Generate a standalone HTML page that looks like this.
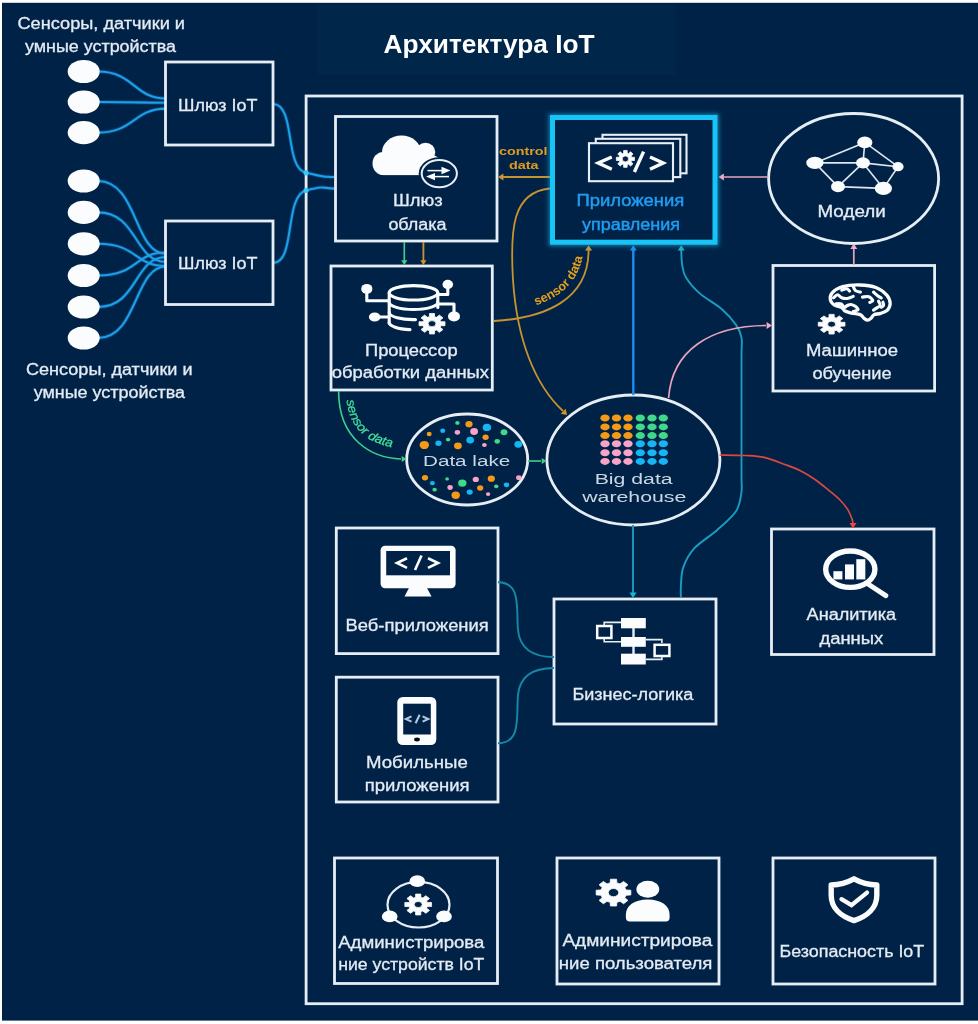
<!DOCTYPE html>
<html lang="ru">
<head>
<meta charset="utf-8">
<title>Архитектура IoT</title>
<style>
html,body{margin:0;padding:0;background:#fff;}
body{width:978px;height:1024px;overflow:hidden;position:relative;font-family:"Liberation Sans",sans-serif;}
svg{position:absolute;left:0;top:0;display:block;}
text{font-family:"Liberation Sans",sans-serif;}
.lbl{fill:#e4ebf4;stroke:#e4ebf4;stroke-width:0.3;font-size:16px;}
.app{fill:#1e9df2;stroke:#1e9df2;stroke-width:0.45;}
.en{fill:#c9d6e4;stroke:none;font-size:15.5px;}
.ttl{fill:#ffffff;font-size:25px;font-weight:bold;}
.sm{fill:#e09a20;font-size:11px;font-weight:bold;}
.smo{fill:#e8a01c;font-size:12.5px;font-weight:bold;}
.smg{fill:#45e09c;stroke:#45e09c;stroke-width:0.25;font-size:12.5px;font-style:italic;}
.box{fill:#022446;stroke:#e6edf5;stroke-width:2.8;}
.ell{fill:#022446;stroke:#e6edf5;stroke-width:2.8;}
.bl{fill:none;stroke:#1d9fe6;stroke-width:2.1;}
.tl{fill:none;stroke:#1a9cc0;stroke-width:1.9;}
.or{fill:none;stroke:#c8922f;stroke-width:1.8;}
.gr{fill:none;stroke:#3fcf8e;stroke-width:1.6;}
.pk{fill:none;stroke:#eaa2be;stroke-width:1.7;}
.rd{fill:none;stroke:#dc4643;stroke-width:1.7;}
.tl2{fill:none;stroke:#1787a8;stroke-width:1.9;}
</style>
</head>
<body>
<svg width="978" height="1024" viewBox="0 0 978 1024">
<defs><filter id="soft" x="-2%" y="-2%" width="104%" height="104%"><feGaussianBlur stdDeviation="0.55"/></filter></defs>
<g filter="url(#soft)">
<rect x="-20" y="-20" width="1018" height="1064" fill="#ffffff"/>
<rect x="2" y="2.8" width="996" height="1017.8" fill="#022446"/>
<rect x="318" y="5" width="358" height="70" fill="#032549"/>
<rect x="306.1" y="96" width="656" height="907.7" fill="none" stroke="#e6edf5" stroke-width="2.8"/>
<g id="sensors">
<path d="M98,71.5 C134,71.5 134,98.5 166,98.5" fill="none" stroke="#0c5fa8" stroke-width="4" opacity="0.45"/>
<path d="M98,102 C134,102 134,102.8 166,102.8" fill="none" stroke="#0c5fa8" stroke-width="4" opacity="0.45"/>
<path d="M98,132.6 C134,132.6 134,108.6 166,108.6" fill="none" stroke="#0c5fa8" stroke-width="4" opacity="0.45"/>
<path d="M98,181 C138,181 134,254 166,254" fill="none" stroke="#0c5fa8" stroke-width="4" opacity="0.45"/>
<path d="M98,212.4 C138,212.4 134,262 166,262" fill="none" stroke="#0c5fa8" stroke-width="4" opacity="0.45"/>
<path d="M98,243.8 C138,243.8 134,266 166,266" fill="none" stroke="#0c5fa8" stroke-width="4" opacity="0.45"/>
<path d="M98,275.5 C138,275.5 134,252.5 166,252.5" fill="none" stroke="#0c5fa8" stroke-width="4" opacity="0.45"/>
<path d="M98,307 C138,307 134,257 166,257" fill="none" stroke="#0c5fa8" stroke-width="4" opacity="0.45"/>
<path d="M98,338 C138,338 134,266.5 166,266.5" fill="none" stroke="#0c5fa8" stroke-width="4" opacity="0.45"/>
<path d="M273,104 C296,104 284,168 306,172.8 S322,177 335,177" fill="none" stroke="#0c5fa8" stroke-width="4" opacity="0.45"/>
<path d="M273,263 C296,263 284,196 306,190.5 S322,188.6 335,188.6" fill="none" stroke="#0c5fa8" stroke-width="4" opacity="0.45"/>
<path class="bl" d="M98,71.5 C134,71.5 134,98.5 166,98.5"/>
<path class="bl" d="M98,102 C134,102 134,102.8 166,102.8"/>
<path class="bl" d="M98,132.6 C134,132.6 134,108.6 166,108.6"/>
<path class="bl" d="M98,181 C138,181 134,254 166,254"/>
<path class="bl" d="M98,212.4 C138,212.4 134,262 166,262"/>
<path class="bl" d="M98,243.8 C138,243.8 134,266 166,266"/>
<path class="bl" d="M98,275.5 C138,275.5 134,252.5 166,252.5"/>
<path class="bl" d="M98,307 C138,307 134,257 166,257"/>
<path class="bl" d="M98,338 C138,338 134,266.5 166,266.5"/>
<path class="bl" d="M273,104 C296,104 284,168 306,172.8 S322,177 335,177"/>
<path class="bl" d="M273,263 C296,263 284,196 306,190.5 S322,188.6 335,188.6"/>
<circle cx="306" cy="172.8" r="2.6" fill="#35c9f5"/><circle cx="306" cy="190.5" r="2.6" fill="#35c9f5"/>
<ellipse cx="83.7" cy="71.5" rx="16" ry="11.6" fill="#fbfcfd"/>
<ellipse cx="83.7" cy="102" rx="16" ry="11.6" fill="#fbfcfd"/>
<ellipse cx="83.7" cy="132.6" rx="16" ry="11.6" fill="#fbfcfd"/>
<ellipse cx="83.7" cy="181" rx="16" ry="11.6" fill="#fbfcfd"/>
<ellipse cx="83.7" cy="212.4" rx="16" ry="11.6" fill="#fbfcfd"/>
<ellipse cx="83.7" cy="243.8" rx="16" ry="11.6" fill="#fbfcfd"/>
<ellipse cx="83.7" cy="275.5" rx="16" ry="11.6" fill="#fbfcfd"/>
<ellipse cx="83.7" cy="307" rx="16" ry="11.6" fill="#fbfcfd"/>
<ellipse cx="83.7" cy="338" rx="16" ry="11.6" fill="#fbfcfd"/>
</g>
<g id="boxes">
<rect class="box" x="165.5" y="62" width="107.5" height="83"/>
<rect class="box" x="165.5" y="221" width="107.5" height="83.5"/>
<rect class="box" x="335.5" y="116.5" width="161.5" height="124.5"/>
<rect class="box" x="331" y="266" width="161.3" height="124"/>
<rect class="box" x="773" y="265.5" width="161.6" height="125.5"/>
<rect class="box" x="336.3" y="528" width="161.7" height="125.6"/>
<rect class="box" x="336.3" y="677.2" width="161.7" height="124.8"/>
<rect class="box" x="554" y="599" width="162" height="125"/>
<rect class="box" x="771.5" y="529" width="162.5" height="125.5"/>
<rect class="box" x="334.5" y="858" width="163.0" height="125.5"/>
<rect class="box" x="557" y="858" width="162" height="126"/>
<rect class="box" x="773" y="858" width="162" height="126"/>
<ellipse class="ell" cx="853.6" cy="178.5" rx="85" ry="65"/>
<ellipse class="ell" cx="467.2" cy="459.5" rx="60.5" ry="45.5"/>
<ellipse class="ell" cx="633.4" cy="460" rx="86.5" ry="65"/>
</g>
<g id="connectors">
<path class="gr" d="M404.3,242 V262"/><path d="M0,0 L-4.80,-3.12 L-4.80,3.12 Z" fill="#3fcf8e" transform="translate(404.3,265) rotate(90)"/>
<path class="or" d="M423.4,242 V262"/><path d="M0,0 L-4.80,-3.12 L-4.80,3.12 Z" fill="#d0952c" transform="translate(423.4,265) rotate(90)"/>
<path class="or" d="M550,177 H503"/><path d="M0,0 L-5.40,-3.51 L-5.40,3.51 Z" fill="#d0952c" transform="translate(498,177) rotate(180)"/>
<path class="or" d="M494,321 C545,318 588.6,300 588.6,250"/><path d="M0,0 L-5.40,-3.51 L-5.40,3.51 Z" fill="#d0952c" transform="translate(588.6,245.2) rotate(-90)"/>
<path class="or" d="M550,188.5 C512,192 510,230 513,280 C517,340 535,385 563,411"/><path d="M0,0 L-5.40,-3.51 L-5.40,3.51 Z" fill="#d0952c" transform="translate(567,415) rotate(45)"/>
<path class="gr" d="M338.6,391 C338.6,440 372,458 401,459"/><path d="M0,0 L-4.80,-3.12 L-4.80,3.12 Z" fill="#3fcf8e" transform="translate(406.5,459) rotate(0)"/>
<path class="gr" d="M528,461 H541"/><path d="M0,0 L-4.80,-3.12 L-4.80,3.12 Z" fill="#3fcf8e" transform="translate(546.5,461) rotate(0)"/>
<path d="M633.3,395 V250" fill="none" stroke="#1c8ff0" stroke-width="2.4"/><path d="M0,0 L-5.40,-3.51 L-5.40,3.51 Z" fill="#1c8ff0" transform="translate(633.3,245.2) rotate(-90)"/>
<path class="tl" d="M680.90,598.00 C680.90,596.05 680.52,591.37 680.90,586.30 C681.28,581.23 681.05,573.85 683.20,567.60 C685.35,561.35 688.13,555.07 693.80,548.80 C699.47,542.53 710.17,536.25 717.20,530.00 C724.23,523.75 731.97,517.55 736.00,511.30 C740.03,505.05 740.48,499.38 741.40,492.50 C742.32,485.62 741.48,492.08 741.50,470.00 C741.52,447.92 741.50,382.03 741.50,360.00 C741.50,337.97 742.38,343.62 741.50,337.80 C740.62,331.98 739.47,329.87 736.20,325.10 C732.93,320.33 727.98,314.48 721.90,309.20 C715.82,303.92 705.68,298.68 699.70,293.40 C693.72,288.12 688.92,282.25 686.00,277.50 C683.08,272.75 683.00,269.48 682.20,264.90 C681.40,260.32 681.37,252.48 681.20,250.00"/><path d="M0,0 L-5.40,-3.51 L-5.40,3.51 Z" fill="#1fb0cc" transform="translate(681.2,245.2) rotate(-90)"/>
<path class="tl" d="M633,525 V593"/><path d="M0,0 L-5.40,-3.51 L-5.40,3.51 Z" fill="#19b6d8" transform="translate(633,598) rotate(90)"/>
<path class="pk" d="M668.6,398 C672,350 710,326 766,325.5"/><path d="M0,0 L-5.40,-3.51 L-5.40,3.51 Z" fill="#f4abc6" transform="translate(772,325.5) rotate(0)"/>
<path class="pk" d="M853.8,265 V249"/><path d="M0,0 L-5.40,-3.51 L-5.40,3.51 Z" fill="#f4abc6" transform="translate(853.8,243.5) rotate(-90)"/>
<path class="pk" d="M768.5,177 H724"/><path d="M0,0 L-5.40,-3.51 L-5.40,3.51 Z" fill="#f4abc6" transform="translate(718.5,177) rotate(180)"/>
<path class="rd" d="M719.60,455.00 C723.83,455.08 737.60,455.10 745.00,455.50 C752.40,455.90 757.33,455.90 764.00,457.40 C770.67,458.90 779.00,462.32 785.00,464.50 C791.00,466.68 795.00,468.00 800.00,470.50 C805.00,473.00 810.33,476.30 815.00,479.50 C819.67,482.70 823.83,486.28 828.00,489.70 C832.17,493.12 836.70,496.68 840.00,500.00 C843.30,503.32 845.80,506.43 847.80,509.60 C849.80,512.77 851.13,516.60 852.00,519.00 C852.87,521.40 852.83,523.17 853.00,524.00"/><path d="M0,0 L-5.40,-3.51 L-5.40,3.51 Z" fill="#ee4540" transform="translate(853,528.5) rotate(90)"/>
<path class="tl2" d="M498,582.3 C522,582.3 516,610 518,630 C520,650 535,657 554,657"/>
<path class="tl2" d="M498,743.3 C522,743.3 516,715 518,695 C520,675 535,668 554,668"/>
</g>
<g id="appsbox">
<defs><filter id="glow" x="-20%" y="-20%" width="140%" height="140%"><feGaussianBlur stdDeviation="2.2"/></filter></defs>
<rect x="552.5" y="117.5" width="162.5" height="124.7" fill="none" stroke="#19b4f5" stroke-width="8" opacity="0.55" filter="url(#glow)"/>
<rect x="552.5" y="117.5" width="162.5" height="124.7" fill="#022446" stroke="#19c4f5" stroke-width="5"/>
</g>
<g id="icons">
<!-- cloud -->
<g fill="#fbfcfd">
<ellipse cx="383.3" cy="163.5" rx="10.8" ry="11.6"/>
<ellipse cx="401.5" cy="152.3" rx="19.5" ry="16.8"/>
<ellipse cx="425.5" cy="152" rx="9.8" ry="9.2"/>
<ellipse cx="431" cy="165" rx="11" ry="10"/>
<rect x="383" y="155" width="48" height="20.1"/>
</g>
<ellipse cx="439.3" cy="173.6" rx="20.6" ry="16.4" fill="#022446"/>
<ellipse cx="439.3" cy="173.6" rx="17.6" ry="13.6" fill="#022446" stroke="#e8eef6" stroke-width="2"/>
<path d="M427.5,170.6 H444" stroke="#fbfcfd" stroke-width="1.5" fill="none"/>
<path d="M441.5,166.8 L450.5,170.6 L441.5,174.2 Z" fill="#fbfcfd"/>
<path d="M449,176.6 H433" stroke="#fbfcfd" stroke-width="1.5" fill="none"/>
<path d="M435,172.9 L426,176.6 L435,180.2 Z" fill="#fbfcfd"/>
<!-- db -->
<g fill="none" stroke="#fbfcfd" stroke-width="3.1" stroke-linecap="round" stroke-linejoin="round">
<ellipse cx="413.5" cy="292.8" rx="24.3" ry="7.2"/>
<path d="M389.2,292.8 V323.2"/>
<path d="M437.8,292.8 V307.5"/>
<path d="M389.2,302.3 A24.3,7.2 0 0 0 437.8,302.3"/>
<path d="M389.2,312.5 A24.3,7.2 0 0 0 415.5,319.6"/>
<path d="M389.2,322.5 A24.3,7.2 0 0 0 410,329.6"/>
<path d="M366.8,289 V300.7 H388"/>
<path d="M375,317 H388"/>
<path d="M447.8,284.5 V294.5 H439"/>
<path d="M454,316 V304 H439"/>
</g>
<ellipse cx="366.8" cy="288.9" rx="5.6" ry="5.0" fill="#fbfcfd"/>
<ellipse cx="374.7" cy="317" rx="5.8" ry="4.6" fill="#fbfcfd"/>
<ellipse cx="447.8" cy="284.4" rx="5.3" ry="4.6" fill="#fbfcfd"/>
<ellipse cx="454" cy="316.4" rx="6" ry="5" fill="#fbfcfd"/>
<path d="M440.88,321.69 L444.96,321.72 L444.96,325.68 L440.88,325.71 L440.08,327.23 L442.94,329.52 L439.38,332.32 L436.48,330.07 L434.55,330.70 L434.52,333.91 L429.48,333.91 L429.45,330.70 L427.52,330.07 L424.62,332.32 L421.06,329.52 L423.92,327.23 L423.12,325.71 L419.04,325.68 L419.04,321.72 L423.12,321.69 L423.92,320.17 L421.06,317.88 L424.62,315.08 L427.52,317.33 L429.45,316.70 L429.48,313.49 L434.52,313.49 L434.55,316.70 L436.48,317.33 L439.38,315.08 L442.94,317.88 L440.08,320.17 Z M428.10,323.70 a3.9,3.1 0 1,0 7.8,0 a3.9,3.1 0 1,0 -7.8,0 Z" fill="#fbfcfd" fill-rule="evenodd" stroke="#fbfcfd" stroke-width="0.8" stroke-linejoin="round"/>
<!-- apps -->
<g fill="#022446" stroke="#e8eef6" stroke-width="2.1">
<rect x="602.5" y="134.8" width="84" height="38.5"/>
<rect x="595.8" y="138.8" width="84.5" height="38.3"/>
<rect x="589" y="143.2" width="84" height="38"/>
</g>
<g fill="none" stroke="#fbfcfd" stroke-width="3.4" stroke-linejoin="miter">
<path d="M611.8,157 L598.2,163 L611.8,169.2"/>
<path d="M650,157 L663.2,163 L650,169.2"/>
<path d="M643.6,151.6 L634.4,172"/>
</g>
<path d="M631.59,157.24 L634.43,157.26 L634.43,160.54 L631.59,160.56 L631.03,161.82 L633.03,163.71 L630.54,166.03 L628.52,164.17 L627.18,164.69 L627.16,167.34 L623.64,167.34 L623.62,164.69 L622.28,164.17 L620.26,166.03 L617.77,163.71 L619.77,161.82 L619.21,160.56 L616.37,160.54 L616.37,157.26 L619.21,157.24 L619.77,155.98 L617.77,154.09 L620.26,151.77 L622.28,153.63 L623.62,153.11 L623.64,150.46 L627.16,150.46 L627.18,153.11 L628.52,153.63 L630.54,151.77 L633.03,154.09 L631.03,155.98 Z M622.20,158.90 a3.2,3.0 0 1,0 6.4,0 a3.2,3.0 0 1,0 -6.4,0 Z" fill="#fbfcfd" fill-rule="evenodd" stroke="#fbfcfd" stroke-width="0.8" stroke-linejoin="round"/>
<!-- models -->
<g stroke="#dfe7f0" stroke-width="1.6" fill="none">
<path d="M864.8,142.4 L814.9,162.9"/>
<path d="M864.8,142.4 L863,162.9"/>
<path d="M864.8,142.4 L898,166.7"/>
<path d="M814.9,162.9 L863,162.9"/>
<path d="M863,162.9 L898,166.7"/>
<path d="M814.9,162.9 L838,186.6"/>
<path d="M863,162.9 L838,186.6"/>
<path d="M863,162.9 L883.4,188.4"/>
<path d="M838,186.6 L883.4,188.4"/>
<path d="M898,166.7 L883.4,188.4"/>
</g>
<ellipse cx="864.8" cy="142.4" rx="7.6" ry="5.8" fill="#fbfcfd"/>
<ellipse cx="814.9" cy="162.9" rx="8.6" ry="6.2" fill="#fbfcfd"/>
<ellipse cx="863" cy="162.9" rx="7" ry="5.6" fill="#fbfcfd"/>
<ellipse cx="898" cy="166.7" rx="5.6" ry="4.6" fill="#fbfcfd"/>
<ellipse cx="838" cy="186.6" rx="7" ry="5.6" fill="#fbfcfd"/>
<ellipse cx="883.4" cy="188.4" rx="8.6" ry="6.6" fill="#fbfcfd"/>
<!-- brain -->
<path d="M830.44,300.06 C830.04,298.01 830.15,295.09 832.18,292.87 C834.22,290.64 838.08,288.00 842.67,286.69 C847.26,285.38 854.18,284.85 859.71,284.99 C865.25,285.14 871.37,285.84 875.88,287.53 C880.40,289.23 884.43,292.50 886.81,295.15 C889.18,297.80 890.01,300.96 890.13,303.45 C890.25,305.93 889.08,308.38 887.51,310.05 C885.93,311.71 882.92,312.67 880.69,313.43 C878.46,314.19 875.71,313.86 874.14,314.62 C872.56,315.38 872.34,317.07 871.25,318.00 C870.16,318.93 868.80,320.18 867.58,320.20 C866.36,320.23 865.15,319.10 863.91,318.17 C862.67,317.24 862.16,315.45 860.15,314.62 C858.14,313.79 854.37,313.77 851.85,313.18 C849.33,312.59 846.78,312.05 845.03,311.06 C843.28,310.08 843.11,308.24 841.36,307.25 C839.61,306.27 836.37,306.34 834.54,305.14 C832.72,303.94 830.83,302.11 830.44,300.06 Z" fill="none" stroke="#fbfcfd" stroke-width="3.3" stroke-linejoin="round"/>
<path d="M853.24,286.50 C853.62,287.19 854.34,289.70 855.54,290.64 C856.73,291.57 859.60,291.87 860.41,292.11" fill="none" stroke="#fbfcfd" stroke-width="3.1" stroke-linecap="round"/>
<path d="M833.46,297.82 C834.15,297.31 836.22,294.78 837.60,294.78 C838.98,294.78 840.13,297.20 841.74,297.82 C843.35,298.43 845.34,298.70 847.26,298.46 C849.18,298.21 852.24,296.70 853.24,296.34" fill="none" stroke="#fbfcfd" stroke-width="3.1" stroke-linecap="round"/>
<path d="M862.44,297.08 C863.51,297.02 867.16,296.13 868.88,296.71 C870.59,297.29 872.59,299.62 872.74,300.57 C872.89,301.53 870.29,302.11 869.80,302.41" fill="none" stroke="#fbfcfd" stroke-width="3.1" stroke-linecap="round"/>
<path d="M836.22,303.70 C837.06,303.75 839.94,303.37 841.28,303.98 C842.61,304.59 843.23,307.12 844.22,307.38 C845.22,307.64 846.14,306.03 847.26,305.54 C848.38,305.05 849.60,304.32 850.94,304.44 C852.27,304.56 854.08,305.39 855.26,306.28 C856.44,307.17 858.36,308.92 858.02,309.77 C857.68,310.63 854.04,311.15 853.24,311.43" fill="none" stroke="#fbfcfd" stroke-width="3.1" stroke-linecap="round"/>
<path d="M878.54,301.22 C878.80,301.91 880.45,304.21 880.10,305.36 C879.75,306.51 877.53,307.32 876.42,308.12 C875.32,308.92 873.97,309.81 873.48,310.14" fill="none" stroke="#fbfcfd" stroke-width="3.1" stroke-linecap="round"/>
<path d="M873.48,292.02 C874.17,292.63 876.31,294.70 877.62,295.70 C878.92,296.70 880.68,297.62 881.30,298.00" fill="none" stroke="#fbfcfd" stroke-width="3.1" stroke-linecap="round"/>
<path d="M841.74,290.18 C842.58,289.95 845.50,288.65 846.80,288.80 C848.10,288.95 849.10,290.72 849.56,291.10" fill="none" stroke="#fbfcfd" stroke-width="3.1" stroke-linecap="round"/>
<path d="M882.86,302.14 C882.98,302.68 883.86,304.52 883.60,305.36 C883.34,306.20 881.68,306.89 881.30,307.20" fill="none" stroke="#fbfcfd" stroke-width="3.1" stroke-linecap="round"/>
<path d="M840.75,322.27 L844.95,322.29 L844.95,326.11 L840.75,326.13 L839.93,327.59 L842.87,329.79 L839.21,332.49 L836.22,330.32 L834.22,330.93 L834.20,334.02 L829.00,334.02 L828.98,330.93 L826.98,330.32 L823.99,332.49 L820.33,329.79 L823.27,327.59 L822.45,326.13 L818.25,326.11 L818.25,322.29 L822.45,322.27 L823.27,320.81 L820.33,318.61 L823.99,315.91 L826.98,318.08 L828.98,317.47 L829.00,314.38 L834.20,314.38 L834.22,317.47 L836.22,318.08 L839.21,315.91 L842.87,318.61 L839.93,320.81 Z M827.60,324.20 a4.0,3.0 0 1,0 8.0,0 a4.0,3.0 0 1,0 -8.0,0 Z" fill="#fbfcfd" fill-rule="evenodd" stroke="#fbfcfd" stroke-width="0.8" stroke-linejoin="round"/>
<!-- lake dots -->
<ellipse cx="457.4" cy="422.9" rx="2.2" ry="1.9" fill="#3fd98a"/>
<ellipse cx="469.0" cy="424.2" rx="3.6" ry="3.1" fill="#f59a16"/>
<ellipse cx="486.9" cy="427.4" rx="4.2" ry="3.7" fill="#12b5f5"/>
<ellipse cx="442.7" cy="430.8" rx="2.5" ry="2.2" fill="#12b5f5"/>
<ellipse cx="429.2" cy="434.0" rx="2.5" ry="2.2" fill="#f59a16"/>
<ellipse cx="457.4" cy="432.3" rx="2.7" ry="2.4" fill="#f7a3c8"/>
<ellipse cx="474.1" cy="431.5" rx="3.9" ry="3.4" fill="#f7a3c8"/>
<ellipse cx="504.0" cy="432.3" rx="3.4" ry="3.0" fill="#3fd98a"/>
<ellipse cx="485.6" cy="437.2" rx="3.1" ry="2.7" fill="#f59a16"/>
<ellipse cx="448.1" cy="439.6" rx="2.2" ry="1.9" fill="#3fd98a"/>
<ellipse cx="470.2" cy="440.1" rx="3.9" ry="3.4" fill="#12b5f5"/>
<ellipse cx="497.2" cy="441.3" rx="2.7" ry="2.4" fill="#3fd98a"/>
<ellipse cx="424.3" cy="445.0" rx="4.7" ry="4.1" fill="#f59a16"/>
<ellipse cx="438.5" cy="443.3" rx="3.1" ry="2.7" fill="#12b5f5"/>
<ellipse cx="457.9" cy="445.8" rx="3.9" ry="3.4" fill="#f59a16"/>
<ellipse cx="484.4" cy="445.0" rx="2.4" ry="2.1" fill="#f7a3c8"/>
<ellipse cx="518.3" cy="444.3" rx="3.9" ry="3.4" fill="#12b5f5"/>
<ellipse cx="425.0" cy="477.7" rx="3.1" ry="2.7" fill="#f59a16"/>
<ellipse cx="447.1" cy="478.9" rx="1.9" ry="1.6" fill="#3fd98a"/>
<ellipse cx="475.8" cy="479.4" rx="3.1" ry="2.7" fill="#f7a3c8"/>
<ellipse cx="491.3" cy="478.7" rx="3.6" ry="3.1" fill="#f59a16"/>
<ellipse cx="518.8" cy="477.7" rx="2.7" ry="2.4" fill="#f7a3c8"/>
<ellipse cx="432.4" cy="483.1" rx="2.5" ry="2.2" fill="#12b5f5"/>
<ellipse cx="462.3" cy="483.1" rx="4.2" ry="3.7" fill="#3fd98a"/>
<ellipse cx="506.5" cy="484.8" rx="2.7" ry="2.4" fill="#12b5f5"/>
<ellipse cx="496.2" cy="486.3" rx="2.2" ry="1.9" fill="#3fd98a"/>
<ellipse cx="434.6" cy="489.7" rx="2.2" ry="1.9" fill="#3fd98a"/>
<ellipse cx="450.1" cy="487.5" rx="2.7" ry="2.4" fill="#f7a3c8"/>
<ellipse cx="480.2" cy="488.0" rx="3.1" ry="2.7" fill="#f59a16"/>
<ellipse cx="469.7" cy="492.1" rx="3.1" ry="2.7" fill="#12b5f5"/>
<ellipse cx="455.7" cy="495.3" rx="4.2" ry="3.7" fill="#f59a16"/>
<ellipse cx="488.1" cy="494.1" rx="2.2" ry="1.9" fill="#f7a3c8"/>
<!-- bigdata dots -->
<ellipse cx="605" cy="418" rx="4.7" ry="3.5" fill="#f59a16"/>
<ellipse cx="616.5" cy="418" rx="4.7" ry="3.5" fill="#f59a16"/>
<ellipse cx="628" cy="418" rx="4.7" ry="3.5" fill="#f59a16"/>
<ellipse cx="640.3" cy="418" rx="4.7" ry="3.5" fill="#3fd98a"/>
<ellipse cx="652" cy="418" rx="4.7" ry="3.5" fill="#3fd98a"/>
<ellipse cx="663.3" cy="418" rx="4.7" ry="3.5" fill="#3fd98a"/>
<ellipse cx="605" cy="426.9" rx="4.7" ry="3.5" fill="#f59a16"/>
<ellipse cx="616.5" cy="426.9" rx="4.7" ry="3.5" fill="#f59a16"/>
<ellipse cx="628" cy="426.9" rx="4.7" ry="3.5" fill="#f59a16"/>
<ellipse cx="640.3" cy="426.9" rx="4.7" ry="3.5" fill="#3fd98a"/>
<ellipse cx="652" cy="426.9" rx="4.7" ry="3.5" fill="#3fd98a"/>
<ellipse cx="663.3" cy="426.9" rx="4.7" ry="3.5" fill="#3fd98a"/>
<ellipse cx="605" cy="435.6" rx="4.7" ry="3.5" fill="#f59a16"/>
<ellipse cx="616.5" cy="435.6" rx="4.7" ry="3.5" fill="#f59a16"/>
<ellipse cx="628" cy="435.6" rx="4.7" ry="3.5" fill="#f59a16"/>
<ellipse cx="640.3" cy="435.6" rx="4.7" ry="3.5" fill="#3fd98a"/>
<ellipse cx="652" cy="435.6" rx="4.7" ry="3.5" fill="#3fd98a"/>
<ellipse cx="663.3" cy="435.6" rx="4.7" ry="3.5" fill="#3fd98a"/>
<ellipse cx="605" cy="443.8" rx="4.7" ry="3.5" fill="#f7a3c8"/>
<ellipse cx="616.5" cy="443.8" rx="4.7" ry="3.5" fill="#f7a3c8"/>
<ellipse cx="628" cy="443.8" rx="4.7" ry="3.5" fill="#f7a3c8"/>
<ellipse cx="640.3" cy="443.8" rx="4.7" ry="3.5" fill="#12b5f5"/>
<ellipse cx="652" cy="443.8" rx="4.7" ry="3.5" fill="#12b5f5"/>
<ellipse cx="663.3" cy="443.8" rx="4.7" ry="3.5" fill="#12b5f5"/>
<ellipse cx="605" cy="452.7" rx="4.7" ry="3.5" fill="#f7a3c8"/>
<ellipse cx="616.5" cy="452.7" rx="4.7" ry="3.5" fill="#f7a3c8"/>
<ellipse cx="628" cy="452.7" rx="4.7" ry="3.5" fill="#f7a3c8"/>
<ellipse cx="640.3" cy="452.7" rx="4.7" ry="3.5" fill="#12b5f5"/>
<ellipse cx="652" cy="452.7" rx="4.7" ry="3.5" fill="#12b5f5"/>
<ellipse cx="663.3" cy="452.7" rx="4.7" ry="3.5" fill="#12b5f5"/>
<ellipse cx="605" cy="461.4" rx="4.7" ry="3.5" fill="#f7a3c8"/>
<ellipse cx="616.5" cy="461.4" rx="4.7" ry="3.5" fill="#f7a3c8"/>
<ellipse cx="628" cy="461.4" rx="4.7" ry="3.5" fill="#f7a3c8"/>
<ellipse cx="640.3" cy="461.4" rx="4.7" ry="3.5" fill="#12b5f5"/>
<ellipse cx="652" cy="461.4" rx="4.7" ry="3.5" fill="#12b5f5"/>
<ellipse cx="663.3" cy="461.4" rx="4.7" ry="3.5" fill="#12b5f5"/>
<!-- monitor -->
<rect x="380.6" y="545.8" width="75" height="42.5" rx="4.5" fill="#fbfcfd"/>
<rect x="386.2" y="551" width="63.8" height="24.3" fill="#022446"/>
<path d="M409.5,587 L426.5,587 L431.5,596.4 L404.5,596.4 Z" fill="#fbfcfd"/>
<g fill="none" stroke="#fbfcfd" stroke-width="2.6">
<path d="M407,558.3 L397,563 L407,567.8"/>
<path d="M428,558.3 L438,563 L428,567.8"/>
<path d="M421.5,555.5 L415,570"/>
</g>
<!-- phone -->
<rect x="397.3" y="697" width="39" height="48" rx="5.5" fill="#fbfcfd"/>
<rect x="403.2" y="703.7" width="27.6" height="30.8" fill="#022446"/>
<ellipse cx="417" cy="739.5" rx="2.9" ry="1.9" fill="#04101f"/>
<g fill="none" stroke="#b5c9e2" stroke-width="2">
<path d="M411.5,716.3 L405.8,719 L411.5,721.7"/>
<path d="M422.6,716.3 L428.3,719 L422.6,721.7"/>
<path d="M419.6,714.8 L415.6,723.2"/>
</g>
<!-- bl -->
<g fill="none" stroke="#e8eef6" stroke-width="1.6">
<path d="M604.2,625 V622.4 H621"/>
<path d="M604.2,638.5 V641.8 H621"/>
<path d="M645.8,639.6 H661.9 V643"/>
<path d="M661.9,657 V659.4 H645.8"/>
<path d="M633.5,628 V655" stroke-width="2.4"/>
</g>
<rect x="621" y="618" width="24.8" height="10.3" fill="#fbfcfd"/>
<rect x="621" y="637" width="24.8" height="9.8" fill="#fbfcfd"/>
<rect x="621" y="653.7" width="24.8" height="10.8" fill="#fbfcfd"/>
<rect x="597.2" y="626" width="14.2" height="12" fill="#022446" stroke="#fbfcfd" stroke-width="2.5"/>
<rect x="654.6" y="644.8" width="14.8" height="11.2" fill="#022446" stroke="#fbfcfd" stroke-width="2.5"/>
<!-- analytics -->
<path d="M868,584 L885.8,595.6" stroke="#fbfcfd" stroke-width="5" stroke-linecap="round" fill="none"/>
<ellipse cx="850.3" cy="569.2" rx="24.6" ry="18.2" fill="#022446" stroke="#fbfcfd" stroke-width="5.4"/>
<rect x="833.4" y="571.2" width="9" height="8.2" fill="#fbfcfd"/>
<rect x="845" y="564.4" width="9" height="15" fill="#fbfcfd"/>
<rect x="856.3" y="559.2" width="9" height="20.2" fill="#fbfcfd"/>
<!-- admin dev -->
<ellipse cx="418.5" cy="904.7" rx="31" ry="22.8" fill="none" stroke="#e8eef6" stroke-width="2.2"/>
<ellipse cx="417.3" cy="881.2" rx="7.8" ry="5.9" fill="#fbfcfd"/>
<ellipse cx="389.7" cy="916.4" rx="7.8" ry="5.9" fill="#fbfcfd"/>
<ellipse cx="444" cy="916.4" rx="7.8" ry="5.9" fill="#fbfcfd"/>
<path d="M427.35,902.45 L431.55,902.48 L431.55,906.52 L427.35,906.55 L426.53,908.10 L429.47,910.43 L425.81,913.29 L422.82,910.99 L420.82,911.63 L420.80,914.91 L415.60,914.91 L415.58,911.63 L413.58,910.99 L410.59,913.29 L406.93,910.43 L409.87,908.10 L409.05,906.55 L404.85,906.52 L404.85,902.48 L409.05,902.45 L409.87,900.90 L406.93,898.57 L410.59,895.71 L413.58,898.01 L415.58,897.37 L415.60,894.09 L420.80,894.09 L420.82,897.37 L422.82,898.01 L425.81,895.71 L429.47,898.57 L426.53,900.90 Z M414.20,904.50 a4.0,3.1 0 1,0 8.0,0 a4.0,3.1 0 1,0 -8.0,0 Z" fill="#fbfcfd" fill-rule="evenodd" stroke="#fbfcfd" stroke-width="0.8" stroke-linejoin="round"/>
<!-- admin user -->
<path d="M626.08,890.00 L630.83,890.24 L630.83,894.96 L626.08,895.20 L624.78,897.63 L627.92,900.40 L623.59,903.74 L620.01,901.32 L616.87,902.32 L616.56,905.99 L610.44,905.99 L610.13,902.32 L606.99,901.32 L603.41,903.74 L599.08,900.40 L602.22,897.63 L600.92,895.20 L596.17,894.96 L596.17,890.24 L600.92,890.00 L602.22,887.57 L599.08,884.80 L603.41,881.46 L606.99,883.88 L610.13,882.88 L610.44,879.21 L616.56,879.21 L616.87,882.88 L620.01,883.88 L623.59,881.46 L627.92,884.80 L624.78,887.57 Z M608.30,892.60 a5.2,4.1 0 1,0 10.4,0 a5.2,4.1 0 1,0 -10.4,0 Z" fill="#fbfcfd" fill-rule="evenodd" stroke="#fbfcfd" stroke-width="0.8" stroke-linejoin="round"/>
<ellipse cx="647.8" cy="889.2" rx="11.4" ry="8.5" fill="#fbfcfd"/>
<path d="M625.9,914.5 C625.9,906 634,899.5 647.7,899.5 C661.5,899.5 669.6,906 669.6,914.5 V917.6 Q669.6,921.6 665.6,921.6 H629.9 Q625.9,921.6 625.9,917.6 Z" fill="#fbfcfd"/>
<!-- shield -->
<path d="M854,878.8 C846,883.2 838,884.8 831.2,885 V895.5 C831.2,908 841,916.5 854,920.6 C867,916.5 876.8,908 876.8,895.5 V885 C870,884.8 862,883.2 854,878.8 Z" fill="none" stroke="#fbfcfd" stroke-width="5.4" stroke-linejoin="round"/>
<path d="M841.5,899.2 L851.5,905.2 L867,892.6" fill="none" stroke="#fbfcfd" stroke-width="4.3" stroke-linejoin="miter" stroke-linecap="round"/>
</g>
<g id="texts">
<text class="lbl" x="17.5" y="28.7" textLength="167.5" lengthAdjust="spacingAndGlyphs">Сенсоры, датчики и</text>
<text class="lbl" x="25" y="52" textLength="151" lengthAdjust="spacingAndGlyphs">умные устройства</text>
<text class="lbl" x="178" y="111.4" textLength="79.5" lengthAdjust="spacingAndGlyphs">Шлюз IoT</text>
<text class="lbl" x="178" y="268.8" textLength="79.5" lengthAdjust="spacingAndGlyphs">Шлюз IoT</text>
<text class="lbl" x="26" y="374.5" textLength="166.5" lengthAdjust="spacingAndGlyphs">Сенсоры, датчики и</text>
<text class="lbl" x="33.7" y="397.5" textLength="151.3" lengthAdjust="spacingAndGlyphs">умные устройства</text>
<text class="ttl" x="383.5" y="52.5" textLength="211.1" lengthAdjust="spacingAndGlyphs">Архитектура IoT</text>
<text class="lbl" x="393" y="205.8" textLength="49.6" lengthAdjust="spacingAndGlyphs">Шлюз</text>
<text class="lbl" x="388.4" y="229.5" textLength="58.0" lengthAdjust="spacingAndGlyphs">облака</text>
<text class="lbl" x="365" y="355.8" textLength="92.8" lengthAdjust="spacingAndGlyphs">Процессор</text>
<text class="lbl" x="331.7" y="377.7" textLength="157.3" lengthAdjust="spacingAndGlyphs">обработки данных</text>
<text class="lbl app" x="576.4" y="205.5" textLength="107.9" lengthAdjust="spacingAndGlyphs">Приложения</text>
<text class="lbl app" x="582" y="230" textLength="98" lengthAdjust="spacingAndGlyphs">управления</text>
<text class="lbl" x="817.5" y="217.3" textLength="68.2" lengthAdjust="spacingAndGlyphs">Модели</text>
<text class="lbl" x="806" y="356.3" textLength="92" lengthAdjust="spacingAndGlyphs">Машинное</text>
<text class="lbl" x="812.4" y="379.3" textLength="79.2" lengthAdjust="spacingAndGlyphs">обучение</text>
<text class="lbl en" x="423" y="466.4" textLength="87.2" lengthAdjust="spacingAndGlyphs">Data lake</text>
<text class="lbl en" x="594.7" y="483.8" textLength="78.0" lengthAdjust="spacingAndGlyphs">Big data</text>
<text class="lbl en" x="582.2" y="501.7" textLength="104.1" lengthAdjust="spacingAndGlyphs">warehouse</text>
<text class="lbl" x="345.6" y="631.4" textLength="143.1" lengthAdjust="spacingAndGlyphs">Веб-приложения</text>
<text class="lbl" x="366" y="767.6" textLength="101.8" lengthAdjust="spacingAndGlyphs">Мобильные</text>
<text class="lbl" x="364.7" y="790.6" textLength="104.8" lengthAdjust="spacingAndGlyphs">приложения</text>
<text class="lbl" x="572.4" y="699.9" textLength="120.9" lengthAdjust="spacingAndGlyphs">Бизнес-логика</text>
<text class="lbl" x="806.6" y="619.9" textLength="89.5" lengthAdjust="spacingAndGlyphs">Аналитика</text>
<text class="lbl" x="819.4" y="643.8" textLength="63.9" lengthAdjust="spacingAndGlyphs">данных</text>
<text class="lbl" x="338.2" y="947.5" textLength="146.1" lengthAdjust="spacingAndGlyphs">Администрирова</text>
<text class="lbl" x="338.2" y="970.1" textLength="146.1" lengthAdjust="spacingAndGlyphs">ние устройств IoT</text>
<text class="lbl" x="562.4" y="945.5" textLength="150.0" lengthAdjust="spacingAndGlyphs">Администрирова</text>
<text class="lbl" x="558.8" y="968.8" textLength="153.6" lengthAdjust="spacingAndGlyphs">ние пользователя</text>
<text class="lbl" x="779.6" y="956.7" textLength="144.6" lengthAdjust="spacingAndGlyphs">Безопасность IoT</text>
<text class="sm" x="499" y="155" textLength="48.5" lengthAdjust="spacingAndGlyphs">control</text>
<text class="sm" x="509" y="168.7" textLength="29.6" lengthAdjust="spacingAndGlyphs">data</text>
<path id="pg" d="M346.5,399 C350,432 370,444 398,448.5" fill="none"/>
<text class="smg"><textPath href="#pg" startOffset="1" textLength="71" lengthAdjust="spacingAndGlyphs">sensor data</textPath></text>
<path id="po" d="M536,305.5 C562,296 580,281 583.5,251" fill="none"/>
<text class="smo"><textPath href="#po" startOffset="0" textLength="71" lengthAdjust="spacingAndGlyphs">sensor data</textPath></text>
</g>
</g>
</svg>
</body>
</html>
